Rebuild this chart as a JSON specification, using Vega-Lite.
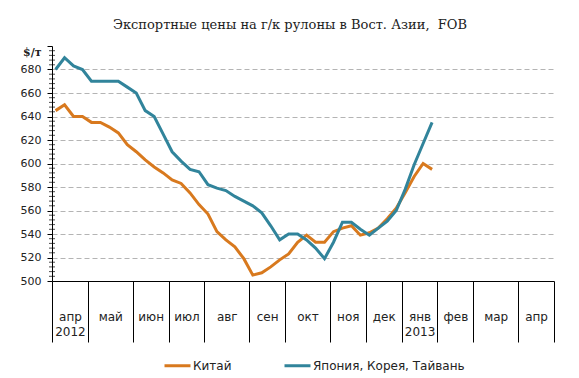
{
  "$schema": "https://vega.github.io/schema/vega-lite/v6.json",
  "width": 502,
  "height": 235,
  "autosize": {"type": "none"},
  "padding": {"left": 52, "top": 46, "right": 25, "bottom": 97},
  "background": "white",
  "title": {
    "text": "Экспортные цены на г/к рулоны в Вост. Азии,\u00a0 FOB",
    "font": "DejaVu Serif",
    "fontSize": 13,
    "fontWeight": "normal",
    "color": "#222",
    "anchor": "middle",
    "dx": -13,
    "offset": 14
  },
  "config": {
    "view": {"stroke": null},
    "font": "DejaVu Sans"
  },
  "datasets": {
    "prices": [
      {"week": 0, "price": 645, "series": "Китай"},
      {"week": 1, "price": 650, "series": "Китай"},
      {"week": 2, "price": 640, "series": "Китай"},
      {"week": 3, "price": 640, "series": "Китай"},
      {"week": 4, "price": 635, "series": "Китай"},
      {"week": 5, "price": 635, "series": "Китай"},
      {"week": 6, "price": 631, "series": "Китай"},
      {"week": 7, "price": 626, "series": "Китай"},
      {"week": 8, "price": 616, "series": "Китай"},
      {"week": 9, "price": 610, "series": "Китай"},
      {"week": 10, "price": 603, "series": "Китай"},
      {"week": 11, "price": 597, "series": "Китай"},
      {"week": 12, "price": 592, "series": "Китай"},
      {"week": 13, "price": 586, "series": "Китай"},
      {"week": 14, "price": 583, "series": "Китай"},
      {"week": 15, "price": 575, "series": "Китай"},
      {"week": 16, "price": 565, "series": "Китай"},
      {"week": 17, "price": 557, "series": "Китай"},
      {"week": 18, "price": 542, "series": "Китай"},
      {"week": 19, "price": 535, "series": "Китай"},
      {"week": 20, "price": 529, "series": "Китай"},
      {"week": 21, "price": 519, "series": "Китай"},
      {"week": 22, "price": 505, "series": "Китай"},
      {"week": 23, "price": 507, "series": "Китай"},
      {"week": 24, "price": 512, "series": "Китай"},
      {"week": 25, "price": 518, "series": "Китай"},
      {"week": 26, "price": 523, "series": "Китай"},
      {"week": 27, "price": 533, "series": "Китай"},
      {"week": 28, "price": 539, "series": "Китай"},
      {"week": 29, "price": 533, "series": "Китай"},
      {"week": 30, "price": 533, "series": "Китай"},
      {"week": 31, "price": 542, "series": "Китай"},
      {"week": 32, "price": 545, "series": "Китай"},
      {"week": 33, "price": 547, "series": "Китай"},
      {"week": 34, "price": 539, "series": "Китай"},
      {"week": 35, "price": 541, "series": "Китай"},
      {"week": 36, "price": 545, "series": "Китай"},
      {"week": 37, "price": 553, "series": "Китай"},
      {"week": 38, "price": 562, "series": "Китай"},
      {"week": 39, "price": 575, "series": "Китай"},
      {"week": 40, "price": 589, "series": "Китай"},
      {"week": 41, "price": 600, "series": "Китай"},
      {"week": 42, "price": 595, "series": "Китай"},
      {"week": 0, "price": 680, "series": "Япония, Корея, Тайвань"},
      {"week": 1, "price": 690, "series": "Япония, Корея, Тайвань"},
      {"week": 2, "price": 683, "series": "Япония, Корея, Тайвань"},
      {"week": 3, "price": 680, "series": "Япония, Корея, Тайвань"},
      {"week": 4, "price": 670, "series": "Япония, Корея, Тайвань"},
      {"week": 5, "price": 670, "series": "Япония, Корея, Тайвань"},
      {"week": 6, "price": 670, "series": "Япония, Корея, Тайвань"},
      {"week": 7, "price": 670, "series": "Япония, Корея, Тайвань"},
      {"week": 8, "price": 665, "series": "Япония, Корея, Тайвань"},
      {"week": 9, "price": 660, "series": "Япония, Корея, Тайвань"},
      {"week": 10, "price": 645, "series": "Япония, Корея, Тайвань"},
      {"week": 11, "price": 640, "series": "Япония, Корея, Тайвань"},
      {"week": 12, "price": 625, "series": "Япония, Корея, Тайвань"},
      {"week": 13, "price": 610, "series": "Япония, Корея, Тайвань"},
      {"week": 14, "price": 602, "series": "Япония, Корея, Тайвань"},
      {"week": 15, "price": 595, "series": "Япония, Корея, Тайвань"},
      {"week": 16, "price": 593, "series": "Япония, Корея, Тайвань"},
      {"week": 17, "price": 582, "series": "Япония, Корея, Тайвань"},
      {"week": 18, "price": 579, "series": "Япония, Корея, Тайвань"},
      {"week": 19, "price": 577, "series": "Япония, Корея, Тайвань"},
      {"week": 20, "price": 572, "series": "Япония, Корея, Тайвань"},
      {"week": 21, "price": 568, "series": "Япония, Корея, Тайвань"},
      {"week": 22, "price": 564, "series": "Япония, Корея, Тайвань"},
      {"week": 23, "price": 558, "series": "Япония, Корея, Тайвань"},
      {"week": 24, "price": 547, "series": "Япония, Корея, Тайвань"},
      {"week": 25, "price": 535, "series": "Япония, Корея, Тайвань"},
      {"week": 26, "price": 540, "series": "Япония, Корея, Тайвань"},
      {"week": 27, "price": 540, "series": "Япония, Корея, Тайвань"},
      {"week": 28, "price": 535, "series": "Япония, Корея, Тайвань"},
      {"week": 29, "price": 528, "series": "Япония, Корея, Тайвань"},
      {"week": 30, "price": 519, "series": "Япония, Корея, Тайвань"},
      {"week": 31, "price": 533, "series": "Япония, Корея, Тайвань"},
      {"week": 32, "price": 550, "series": "Япония, Корея, Тайвань"},
      {"week": 33, "price": 550, "series": "Япония, Корея, Тайвань"},
      {"week": 34, "price": 544, "series": "Япония, Корея, Тайвань"},
      {"week": 35, "price": 539, "series": "Япония, Корея, Тайвань"},
      {"week": 36, "price": 545, "series": "Япония, Корея, Тайвань"},
      {"week": 37, "price": 551, "series": "Япония, Корея, Тайвань"},
      {"week": 38, "price": 560, "series": "Япония, Корея, Тайвань"},
      {"week": 39, "price": 578, "series": "Япония, Корея, Тайвань"},
      {"week": 40, "price": 599, "series": "Япония, Корея, Тайвань"},
      {"week": 41, "price": 617, "series": "Япония, Корея, Тайвань"},
      {"week": 42, "price": 635, "series": "Япония, Корея, Тайвань"}
    ],
    "minor": [
      {"v": 504}, {"v": 508}, {"v": 512}, {"v": 516},
      {"v": 524}, {"v": 528}, {"v": 532}, {"v": 536},
      {"v": 544}, {"v": 548}, {"v": 552}, {"v": 556},
      {"v": 564}, {"v": 568}, {"v": 572}, {"v": 576},
      {"v": 584}, {"v": 588}, {"v": 592}, {"v": 596},
      {"v": 604}, {"v": 608}, {"v": 612}, {"v": 616},
      {"v": 624}, {"v": 628}, {"v": 632}, {"v": 636},
      {"v": 644}, {"v": 648}, {"v": 652}, {"v": 656},
      {"v": 664}, {"v": 668}, {"v": 672}, {"v": 676},
      {"v": 684}, {"v": 688}, {"v": 692}, {"v": 696}
    ]
  },
  "resolve": {"axis": {"x": "independent", "y": "independent"}},
  "layer": [
    {
      "data": {"name": "minor"},
      "mark": {"type": "tick", "orient": "horizontal", "size": 6, "thickness": 1, "color": "#000"},
      "encoding": {
        "x": {
          "datum": -0.4,
          "type": "quantitative",
          "scale": {"domain": [-0.4, 55.6], "nice": false, "zero": false},
          "axis": {
            "orient": "bottom",
            "title": null,
            "values": [1.6, 6.1, 10.6, 14.6, 19.1, 23.6, 28.1, 32.6, 36.6, 40.6, 44.6, 49.1, 53.6],
            "labelExpr": "datum.value < 3 ? ['апр','2012'] : datum.value < 8 ? 'май' : datum.value < 12 ? 'июн' : datum.value < 16 ? 'июл' : datum.value < 20 ? 'авг' : datum.value < 25 ? 'сен' : datum.value < 30 ? 'окт' : datum.value < 34 ? 'ноя' : datum.value < 38 ? 'дек' : datum.value < 42 ? ['янв','2013'] : datum.value < 46 ? 'фев' : datum.value < 51 ? 'мар' : 'апр'",
            "ticks": false,
            "domain": false,
            "grid": false,
            "labelPadding": 30,
            "labelBaseline": "top",
            "labelFontSize": 12,
            "labelColor": "#222",
            "labelLineHeight": 15,
            "labelFlush": false,
            "labelOverlap": false
          }
        },
        "y": {
          "field": "v",
          "type": "quantitative",
          "scale": {"domain": [500, 700], "nice": false, "zero": false},
          "axis": {
            "orient": "left",
            "title": null,
            "values": [500, 520, 540, 560, 580, 600, 620, 640, 660, 680, 700],
            "labelExpr": "datum.value == 700 ? '$/т' : datum.label",
            "labelFont": {"condition": {"test": "datum.value == 700", "value": "DejaVu Serif"}, "value": "DejaVu Sans"},
            "labelFontWeight": {"condition": {"test": "datum.value == 700", "value": "bold"}, "value": "normal"},
            "labelOffset": {"condition": {"test": "datum.value == 700", "value": 6}, "value": 0},
            "labelFontSize": 11,
            "labelColor": "#222",
            "labelPadding": 6,
            "tickSize": 5,
            "tickColor": "#000",
            "domainColor": "#000",
            "grid": true,
            "gridColor": "#b4b4b4",
            "gridDash": [5, 3],
            "gridOpacity": {"condition": {"test": "datum.value == 700 || datum.value == 500", "value": 0}, "value": 1}
          }
        }
      }
    },
    {
      "data": {"name": "prices"},
      "mark": {"type": "line", "strokeWidth": 3, "strokeJoin": "miter"},
      "encoding": {
        "x": {
          "field": "week",
          "type": "quantitative",
          "scale": {"domain": [-0.4, 55.6], "nice": false, "zero": false},
          "axis": {
            "orient": "bottom",
            "title": null,
            "values": [-0.4, 3.6, 8.6, 12.6, 16.6, 21.6, 25.6, 30.6, 34.6, 38.6, 42.6, 46.6, 51.6, 55.6],
            "labels": false,
            "grid": false,
            "tickSize": 61,
            "tickColor": "#000",
            "tickWidth": 1,
            "domainColor": "#000",
            "domainWidth": 1
          }
        },
        "y": {
          "field": "price",
          "type": "quantitative",
          "scale": {"domain": [500, 700], "nice": false, "zero": false},
          "axis": null
        },
        "color": {
          "field": "series",
          "type": "nominal",
          "scale": {"domain": ["Китай", "Япония, Корея, Тайвань"], "range": ["#D8791E", "#31849B"]},
          "legend": {
            "title": null,
            "orient": "none",
            "legendX": 111,
            "legendY": 305,
            "direction": "horizontal",
            "padding": 0,
            "symbolType": "stroke",
            "symbolStrokeWidth": 3,
            "symbolSize": 676,
            "labelFontSize": 12,
            "labelFont": "DejaVu Sans",
            "labelColor": "#222",
            "labelOffset": 1,
            "columnPadding": 46
          }
        }
      }
    }
  ]
}
